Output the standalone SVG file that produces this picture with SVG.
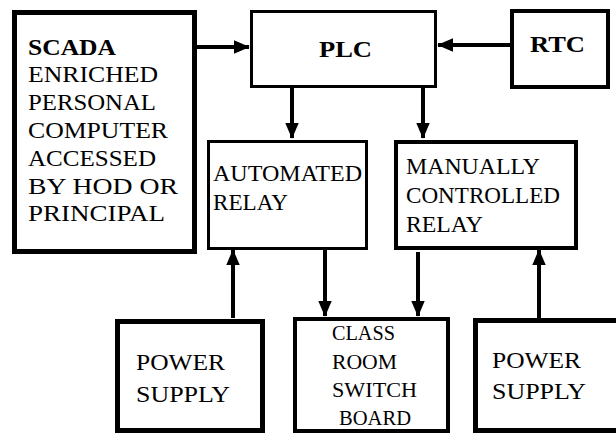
<svg xmlns="http://www.w3.org/2000/svg" width="616" height="433" viewBox="0 0 616 433">
<style>
.box{fill:#fff;stroke:#000;stroke-width:4}
.t{font-family:"Liberation Serif","Times New Roman",serif;font-size:24px;fill:#000}
.b{font-weight:bold;font-size:24px}
.s{font-size:20px}
.c{stroke:#000;stroke-width:4;fill:none;marker-end:url(#ah)}
</style>
<defs>
<marker id="ah" markerWidth="4" markerHeight="4" refX="3.8" refY="2" orient="auto" markerUnits="strokeWidth">
<path d="M0,0.3 L4,2 L0,3.7 Z" fill="#000"/>
</marker>
</defs>
<rect width="616" height="433" fill="#fff"/>
<g id="connectors">
<line class="c" x1="197" y1="47" x2="249" y2="47"/>
<line class="c" x1="510" y1="45" x2="438" y2="45"/>
<line class="c" x1="292" y1="88" x2="292" y2="138"/>
<line class="c" x1="423" y1="88" x2="423" y2="138"/>
<line class="c" x1="233" y1="318" x2="233" y2="250"/>
<line class="c" x1="325" y1="250" x2="325" y2="316"/>
<line class="c" x1="418" y1="252" x2="418" y2="316"/>
<line class="c" x1="539" y1="318" x2="539" y2="250"/>
</g>
<g id="scada">
<rect class="box" x="14.5" y="12.5" width="180" height="239" style="stroke-width:5"/>
<text class="t b" x="28" y="55" textLength="88" lengthAdjust="spacingAndGlyphs">SCADA</text>
<text class="t" x="28" y="82" textLength="130" lengthAdjust="spacingAndGlyphs">ENRICHED</text>
<text class="t" x="28" y="110" textLength="128" lengthAdjust="spacingAndGlyphs">PERSONAL</text>
<text class="t" x="28" y="138" textLength="140" lengthAdjust="spacingAndGlyphs">COMPUTER</text>
<text class="t" x="28" y="166" textLength="128" lengthAdjust="spacingAndGlyphs">ACCESSED</text>
<text class="t" x="28" y="194" textLength="150" lengthAdjust="spacingAndGlyphs">BY HOD OR</text>
<text class="t" x="28" y="221" textLength="137" lengthAdjust="spacingAndGlyphs">PRINCIPAL</text>
</g>
<g id="plc">
<rect class="box" x="251.5" y="11.5" width="184" height="75" style="stroke-width:3"/>
<text class="t b" x="319" y="57" textLength="53" lengthAdjust="spacingAndGlyphs">PLC</text>
</g>
<g id="rtc">
<rect class="box" x="512" y="11" width="96" height="76"/>
<text class="t b" x="530" y="52" textLength="55" lengthAdjust="spacingAndGlyphs">RTC</text>
</g>
<g id="automated">
<rect class="box" x="208.5" y="141.5" width="158" height="107" style="stroke-width:3"/>
<text class="t" x="213" y="181" textLength="149" lengthAdjust="spacingAndGlyphs">AUTOMATED</text>
<text class="t" x="213" y="210" textLength="75" lengthAdjust="spacingAndGlyphs">RELAY</text>
</g>
<g id="manual">
<rect class="box" x="396" y="142" width="180" height="106"/>
<text class="t" x="406" y="174" textLength="134" lengthAdjust="spacingAndGlyphs">MANUALLY</text>
<text class="t" x="406" y="203" textLength="154" lengthAdjust="spacingAndGlyphs">CONTROLLED</text>
<text class="t" x="406" y="232" textLength="77" lengthAdjust="spacingAndGlyphs">RELAY</text>
</g>
<g id="power1">
<rect class="box" x="117.5" y="321.5" width="145" height="109" style="stroke-width:5"/>
<text class="t" x="136" y="370" textLength="89" lengthAdjust="spacingAndGlyphs">POWER</text>
<text class="t" x="136" y="402" textLength="94" lengthAdjust="spacingAndGlyphs">SUPPLY</text>
</g>
<g id="classroom">
<rect class="box" x="295" y="319" width="153" height="112"/>
<text class="t s" x="332" y="340" textLength="63" lengthAdjust="spacingAndGlyphs">CLASS</text>
<text class="t s" x="332" y="369" textLength="65" lengthAdjust="spacingAndGlyphs">ROOM</text>
<text class="t s" x="332" y="397" textLength="85" lengthAdjust="spacingAndGlyphs">SWITCH</text>
<text class="t s" x="339" y="425" textLength="72" lengthAdjust="spacingAndGlyphs">BOARD</text>
</g>
<g id="power2">
<rect class="box" x="475.5" y="320.5" width="150" height="110" style="stroke-width:5"/>
<text class="t" x="492" y="368" textLength="89" lengthAdjust="spacingAndGlyphs">POWER</text>
<text class="t" x="492" y="399" textLength="94" lengthAdjust="spacingAndGlyphs">SUPPLY</text>
</g>
</svg>
